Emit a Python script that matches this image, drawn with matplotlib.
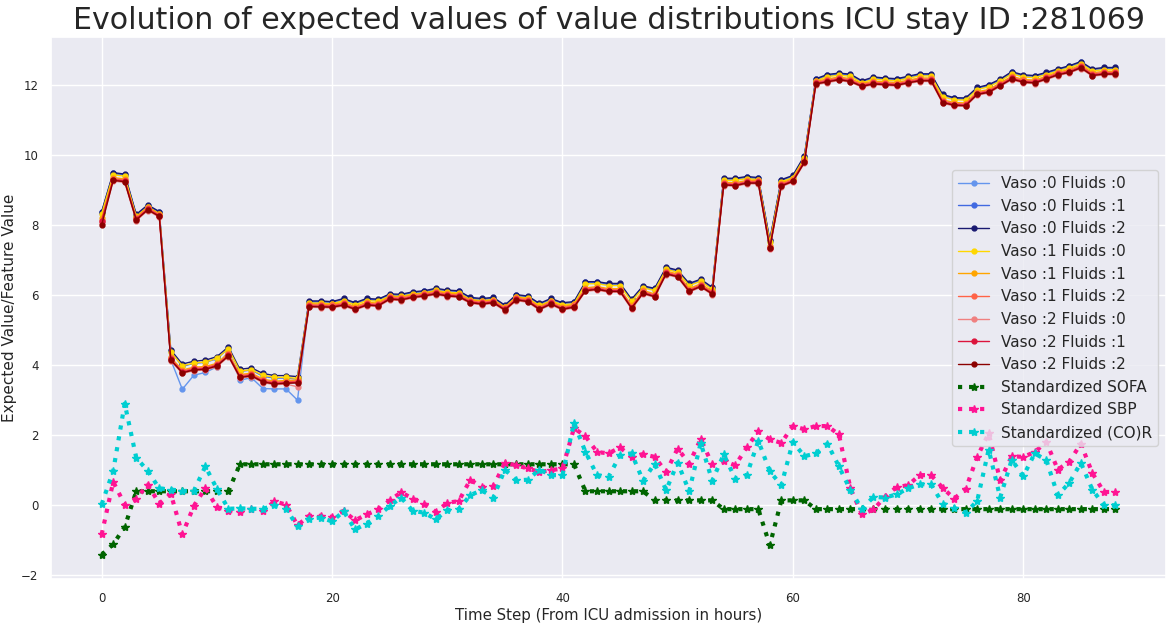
import matplotlib
matplotlib.use("Agg")
import matplotlib.pyplot as plt
import seaborn as sns
import numpy as np

sns.set_theme(style="darkgrid")
plt.rcParams['font.family'] = ['DejaVu Sans']

time_steps = list(range(89))

v0f0 = [8.34, 9.45, 9.41, 8.26, 8.53, 8.34, 4.15, 3.31, 3.71, 3.79, 3.95, 4.40, 3.57, 3.64, 3.33, 3.32, 3.32, 3.00,
        5.79, 5.79, 5.77, 5.86, 5.74, 5.86, 5.84, 5.99, 5.98, 6.05, 6.08, 6.15, 6.10, 6.08, 5.89, 5.86, 5.89, 5.67,
        5.97, 5.93, 5.72, 5.86, 5.74, 5.77, 6.34, 6.34, 6.29, 6.29, 5.84, 6.22, 6.15, 6.75, 6.67, 6.29, 6.41, 6.18,
        9.29, 9.29, 9.34, 9.31, 7.53, 9.25, 9.37, 9.93, 12.13, 12.25, 12.29, 12.26, 12.07, 12.18, 12.15, 12.13, 12.20,
        12.27, 12.27, 11.68, 11.59, 11.58, 11.88, 11.96, 12.12, 12.33, 12.24, 12.22, 12.31, 12.41, 12.50, 12.62, 12.41,
        12.45, 12.45]
v0f1 = [8.36, 9.47, 9.43, 8.28, 8.55, 8.36, 4.40, 3.96, 4.05, 4.08, 4.18, 4.48, 3.82, 3.86, 3.68, 3.63, 3.63, 3.60,
        5.81, 5.81, 5.79, 5.88, 5.76, 5.88, 5.86, 6.01, 6.00, 6.07, 6.10, 6.17, 6.12, 6.10, 5.91, 5.88, 5.91, 5.69,
        5.99, 5.95, 5.74, 5.88, 5.76, 5.79, 6.36, 6.36, 6.31, 6.31, 5.86, 6.24, 6.17, 6.77, 6.69, 6.31, 6.43, 6.20,
        9.31, 9.31, 9.36, 9.33, 7.55, 9.27, 9.39, 9.95, 12.15, 12.27, 12.31, 12.28, 12.09, 12.20, 12.17, 12.15, 12.22,
        12.29, 12.29, 11.70, 11.61, 11.60, 11.90, 11.98, 12.14, 12.35, 12.26, 12.24, 12.33, 12.43, 12.52, 12.64, 12.43,
        12.47, 12.47]
v0f2 = [8.38, 9.49, 9.45, 8.30, 8.57, 8.38, 4.43, 4.03, 4.11, 4.14, 4.24, 4.52, 3.88, 3.92, 3.76, 3.70, 3.70, 3.67,
        5.83, 5.83, 5.81, 5.90, 5.78, 5.90, 5.88, 6.03, 6.02, 6.09, 6.12, 6.19, 6.14, 6.12, 5.93, 5.90, 5.93, 5.71,
        6.01, 5.97, 5.76, 5.90, 5.78, 5.81, 6.38, 6.38, 6.33, 6.33, 5.88, 6.26, 6.19, 6.79, 6.71, 6.33, 6.45, 6.22,
        9.33, 9.33, 9.38, 9.35, 7.57, 9.29, 9.41, 9.97, 12.17, 12.29, 12.33, 12.30, 12.11, 12.22, 12.19, 12.17, 12.24,
        12.31, 12.31, 11.72, 11.63, 11.62, 11.92, 12.00, 12.16, 12.37, 12.28, 12.26, 12.35, 12.45, 12.54, 12.66, 12.45,
        12.49, 12.49]
v1f0 = [8.32, 9.43, 9.39, 8.24, 8.51, 8.32, 4.37, 3.98, 4.06, 4.09, 4.19, 4.47, 3.83, 3.87, 3.71, 3.65, 3.65, 3.62,
        5.77, 5.77, 5.75, 5.84, 5.72, 5.84, 5.82, 5.97, 5.96, 6.03, 6.06, 6.13, 6.08, 6.06, 5.87, 5.84, 5.87, 5.65,
        5.95, 5.91, 5.70, 5.84, 5.72, 5.75, 6.32, 6.32, 6.27, 6.27, 5.82, 6.20, 6.13, 6.73, 6.65, 6.27, 6.39, 6.16,
        9.27, 9.27, 9.32, 9.29, 7.51, 9.23, 9.35, 9.91, 12.11, 12.23, 12.27, 12.24, 12.05, 12.16, 12.13, 12.11, 12.18,
        12.25, 12.25, 11.66, 11.57, 11.56, 11.86, 11.94, 12.10, 12.31, 12.22, 12.20, 12.29, 12.39, 12.48, 12.60, 12.39,
        12.43, 12.43]
v1f1 = [8.20, 9.35, 9.31, 8.22, 8.51, 8.32, 4.22, 3.86, 3.94, 3.96, 4.05, 4.34, 3.73, 3.77, 3.60, 3.54, 3.56, 3.57,
        5.75, 5.74, 5.73, 5.79, 5.67, 5.79, 5.77, 5.96, 5.94, 6.01, 6.05, 6.11, 6.05, 6.03, 5.86, 5.82, 5.86, 5.65,
        5.94, 5.89, 5.67, 5.82, 5.67, 5.73, 6.20, 6.24, 6.18, 6.18, 5.70, 6.13, 6.03, 6.68, 6.60, 6.18, 6.32, 6.11,
        9.22, 9.20, 9.27, 9.27, 7.41, 9.19, 9.32, 9.86, 12.10, 12.16, 12.22, 12.17, 12.03, 12.10, 12.08, 12.06, 12.13,
        12.19, 12.19, 11.57, 11.49, 11.48, 11.80, 11.86, 12.05, 12.24, 12.15, 12.13, 12.24, 12.36, 12.43, 12.56, 12.34,
        12.38, 12.38]
v1f2 = [8.10, 9.32, 9.28, 8.19, 8.48, 8.29, 4.19, 3.83, 3.91, 3.93, 4.02, 4.31, 3.70, 3.74, 3.57, 3.51, 3.53, 3.54,
        5.72, 5.71, 5.70, 5.76, 5.64, 5.76, 5.74, 5.93, 5.91, 5.98, 6.02, 6.08, 6.02, 6.00, 5.83, 5.79, 5.83, 5.62,
        5.91, 5.86, 5.64, 5.79, 5.64, 5.70, 6.17, 6.21, 6.15, 6.15, 5.67, 6.10, 6.00, 6.65, 6.57, 6.15, 6.29, 6.08,
        9.19, 9.17, 9.24, 9.24, 7.38, 9.16, 9.29, 9.83, 12.07, 12.13, 12.19, 12.14, 12.00, 12.07, 12.05, 12.03, 12.10,
        12.16, 12.16, 11.54, 11.46, 11.45, 11.77, 11.83, 12.02, 12.21, 12.12, 12.10, 12.21, 12.33, 12.40, 12.53, 12.31,
        12.35, 12.35]
v2f0 = [8.05, 9.25, 9.21, 8.12, 8.41, 8.22, 4.12, 3.76, 3.84, 3.86, 3.95, 4.24, 3.63, 3.67, 3.50, 3.44, 3.46, 3.38,
        5.65, 5.64, 5.63, 5.69, 5.57, 5.69, 5.67, 5.86, 5.84, 5.91, 5.95, 6.01, 5.95, 5.93, 5.76, 5.72, 5.76, 5.55,
        5.84, 5.79, 5.57, 5.72, 5.57, 5.63, 6.10, 6.14, 6.08, 6.08, 5.60, 6.03, 5.93, 6.58, 6.50, 6.08, 6.22, 6.01,
        9.12, 9.10, 9.17, 9.17, 7.31, 9.09, 9.22, 9.76, 12.00, 12.06, 12.12, 12.07, 11.93, 12.00, 11.98, 11.96, 12.03,
        12.09, 12.09, 11.47, 11.39, 11.38, 11.70, 11.76, 11.95, 12.14, 12.05, 12.03, 12.14, 12.26, 12.33, 12.46, 12.24,
        12.28, 12.28]
v2f1 = [8.12, 9.29, 9.25, 8.16, 8.45, 8.26, 4.16, 3.80, 3.88, 3.90, 3.99, 4.28, 3.67, 3.71, 3.54, 3.48, 3.50, 3.51,
        5.69, 5.68, 5.67, 5.73, 5.61, 5.73, 5.71, 5.90, 5.88, 5.95, 5.99, 6.05, 5.99, 5.97, 5.80, 5.76, 5.80, 5.59,
        5.88, 5.83, 5.61, 5.76, 5.61, 5.67, 6.14, 6.18, 6.12, 6.12, 5.64, 6.07, 5.97, 6.62, 6.54, 6.12, 6.26, 6.05,
        9.16, 9.14, 9.21, 9.21, 7.35, 9.13, 9.26, 9.80, 12.04, 12.10, 12.16, 12.11, 11.97, 12.04, 12.02, 12.00, 12.07,
        12.13, 12.13, 11.51, 11.43, 11.42, 11.74, 11.80, 11.99, 12.18, 12.09, 12.07, 12.18, 12.30, 12.37, 12.50, 12.28,
        12.32, 12.32]
v2f2 = [8.00, 9.27, 9.23, 8.14, 8.43, 8.24, 4.14, 3.78, 3.86, 3.88, 3.97, 4.26, 3.65, 3.69, 3.52, 3.46, 3.48, 3.49,
        5.67, 5.66, 5.65, 5.71, 5.59, 5.71, 5.69, 5.88, 5.86, 5.93, 5.97, 6.03, 5.97, 5.95, 5.78, 5.74, 5.78, 5.57,
        5.86, 5.81, 5.59, 5.74, 5.59, 5.65, 6.12, 6.16, 6.10, 6.10, 5.62, 6.05, 5.95, 6.60, 6.52, 6.10, 6.24, 6.03,
        9.14, 9.12, 9.19, 9.19, 7.33, 9.11, 9.24, 9.78, 12.02, 12.08, 12.14, 12.09, 11.95, 12.02, 12.00, 11.98, 12.05,
        12.11, 12.11, 11.49, 11.41, 11.40, 11.72, 11.78, 11.97, 12.16, 12.07, 12.05, 12.16, 12.28, 12.35, 12.48, 12.26,
        12.30, 12.30]

sofa = [-1.41, -1.11, -0.62] + [0.40] * 9 + [1.17] * 30 + [0.40] * 6 + [0.14] * 6 + [-0.11] * 4 + [-1.14] \
       + [0.14] * 3 + [-0.11] * 27
sbp = [-0.83, 0.67, 0.02, 0.19, 0.59, 0.05, 0.33, -0.83, -0.02, 0.49, -0.05, -0.16, -0.19, -0.12, -0.16, 0.11,
       0.02, -0.57, -0.30, -0.30, -0.33, -0.16, -0.43, -0.26, -0.12, 0.14, 0.37, 0.19, 0.05, -0.19, 0.07, 0.12,
       0.73, 0.52, 0.54, 1.21, 1.14, 1.05, 0.95, 1.00, 1.05, 2.20, 1.97, 1.52, 1.48, 1.65, 1.38, 1.46, 1.38, 0.95,
       1.62, 1.19, 1.89, 1.17, 1.27, 1.14, 1.65, 2.11, 1.88, 1.78, 2.26, 2.17, 2.26, 2.26, 2.02, 0.48, -0.26, -0.12,
       0.24, 0.52, 0.57, 0.86, 0.86, 0.50, 0.19, 0.46, 1.38, 2.05, 0.71, 1.40, 1.38, 1.52, 1.81, 1.02, 1.24, 1.76,
       0.92, 0.38, 0.38]
cor = [0.03, 0.98, 2.90, 1.36, 0.98, 0.48, 0.45, 0.41, 0.41, 1.11, 0.47, -0.10, -0.09, -0.10, -0.10, 0.00, -0.10,
       -0.60, -0.38, -0.35, -0.46, -0.17, -0.69, -0.52, -0.31, -0.02, 0.22, -0.16, -0.21, -0.40, -0.14, -0.11, 0.29,
       0.43, 0.22, 1.02, 0.71, 0.73, 1.02, 0.86, 0.86, 2.35, 1.52, 0.86, 0.81, 1.43, 1.48, 0.70, 1.19, 0.43, 1.22,
       0.40, 1.78, 0.70, 1.45, 0.76, 0.86, 1.84, 0.97, 0.57, 1.81, 1.40, 1.48, 1.76, 1.11, 0.43, -0.11, 0.24, 0.22,
       0.31, 0.48, 0.60, 0.60, 0.05, -0.07, -0.21, 0.12, 1.59, 0.22, 1.30, 0.83, 1.48, 1.29, 0.29, 0.64, 1.21, 0.45,
       0.00, 0.00]

value_series = [v0f0, v0f1, v0f2, v1f0, v1f1, v1f2, v2f0, v2f1, v2f2]
value_labels = ["Vaso :0 Fluids :0", "Vaso :0 Fluids :1", "Vaso :0 Fluids :2",
                "Vaso :1 Fluids :0", "Vaso :1 Fluids :1", "Vaso :1 Fluids :2",
                "Vaso :2 Fluids :0", "Vaso :2 Fluids :1", "Vaso :2 Fluids :2"]
value_colors = ["cornflowerblue", "royalblue", "midnightblue",
                "gold", "orange", "tomato",
                "lightcoral", "crimson", "darkred"]

feature_series = [sofa, sbp, cor]
feature_labels = ["Standardized SOFA", "Standardized SBP", "Standardized (CO)R"]
feature_colors = ["darkgreen", "deeppink", "darkturquoise"]

fig = plt.figure(figsize=(11.75, 6.25), dpi=100)
ax = fig.add_axes([0.0434, 0.073, 0.949, 0.868])

for ys, lab, col in zip(value_series, value_labels, value_colors):
    ax.plot(time_steps, ys, color=col, label=lab, marker='o', markersize=3.5, linewidth=1.0)
for ys, lab, col in zip(feature_series, feature_labels, feature_colors):
    ax.plot(time_steps, ys, color=col, label=lab, marker='*', markersize=6, linewidth=3, linestyle=':')

ax.set_title("Evolution of expected values of value distributions ICU stay ID :281069", fontsize=21.6)
ax.set_xlabel("Time Step (From ICU admission in hours)", fontsize=10.8, labelpad=2)
ax.set_ylabel("Expected Value/Feature Value", fontsize=11, labelpad=3)
ax.tick_params(labelsize=8.5, pad=3)
ax.legend(loc="center right", fontsize=11)

fig.savefig("out.png", dpi=100)
